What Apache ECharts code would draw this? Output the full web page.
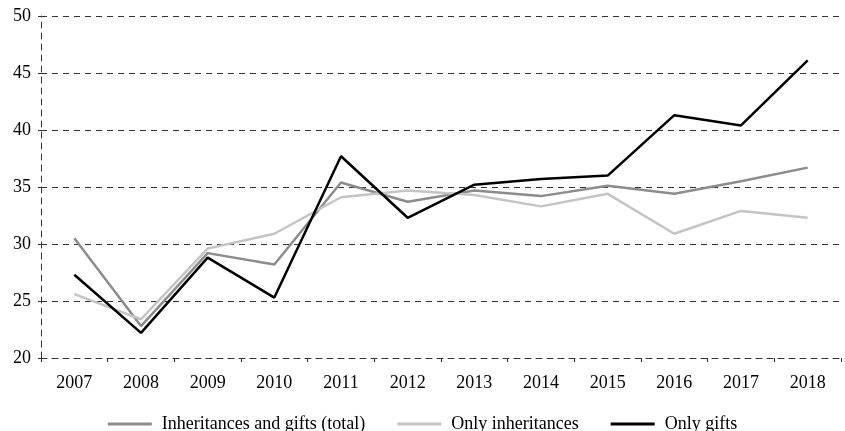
<!DOCTYPE html>
<html>
<head>
<meta charset="utf-8">
<script src="https://cdn.jsdelivr.net/npm/echarts@6/dist/echarts.min.js"></script>
<style>
  html, body { margin: 0; padding: 0; background: #fff; }
  #lineChart { width: 845px; height: 431px; }
</style>
</head>
<body>
<div id="lineChart"></div>
<script>
  var years = ['2007', '2008', '2009', '2010', '2011', '2012', '2013', '2014', '2015', '2016', '2017', '2018']
  var total = [30.5, 22.8, 29.2, 28.2, 35.4, 33.7, 34.7, 34.2, 35.1, 34.4, 35.5, 36.7]        // Inheritances and gifts (total)
  var inheritances = [25.6, 23.4, 29.6, 30.9, 34.1, 34.7, 34.3, 33.3, 34.4, 30.9, 32.9, 32.3] // Only inheritances
  var gifts = [27.3, 22.2, 28.8, 25.3, 37.7, 32.3, 35.2, 35.7, 36.0, 41.3, 40.4, 46.1]        // Only gifts

  var font = "'Liberation Serif', 'Times New Roman', serif"
  var charts = echarts.init(document.getElementById('lineChart'))

  function lineSeries(name, data, color) {
    return {
      name: name,
      type: 'line',
      data: data,
      symbol: 'none',
      lineStyle: { color: color, width: 2.5 },
      itemStyle: { color: color }
    }
  }

  var option = {
    animation: false,
    textStyle: { fontFamily: font },
    grid: { left: 41, right: 4, top: 16, bottom: 73 },
    legend: {
      top: 410,
      left: 'center',
      icon: 'rect',
      itemWidth: 44,
      itemHeight: 3,
      itemGap: 32,
      textStyle: { color: '#000', fontSize: 18, fontFamily: font, padding: [0, 0, 0, 5] },
      data: ['Inheritances and gifts (total)', 'Only inheritances', 'Only gifts']
    },
    xAxis: {
      type: 'category',
      data: years,
      boundaryGap: true,
      axisLine: { lineStyle: { color: '#333', type: [6, 5], width: 1 } },
      axisTick: { show: true, length: 4, lineStyle: { color: '#333' } },
      axisLabel: { color: '#000', fontSize: 18, margin: 16, fontFamily: font }
    },
    yAxis: {
      type: 'value',
      min: 20,
      max: 50,
      interval: 5,
      axisLine: { show: true, lineStyle: { color: '#333', type: [6, 5], width: 1 } },
      axisTick: { show: true, length: 3, lineStyle: { color: '#333' } },
      axisLabel: { color: '#000', fontSize: 18, margin: 10, fontFamily: font },
      splitLine: { lineStyle: { color: '#333', type: [6, 5], width: 1 } }
    },
    series: [
      lineSeries('Inheritances and gifts (total)', total, '#8c8c8c'),
      lineSeries('Only inheritances', inheritances, '#c4c4c4'),
      lineSeries('Only gifts', gifts, '#000000')
    ]
  }
  charts.setOption(option)
</script>
</body>
</html>
